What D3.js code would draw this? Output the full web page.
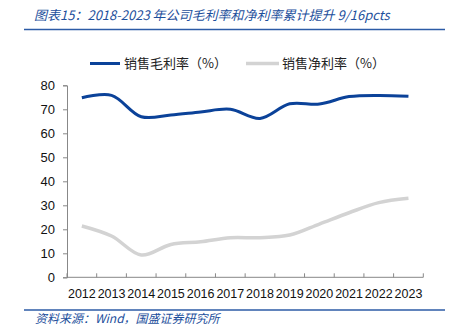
<!DOCTYPE html>
<html><head><meta charset="utf-8">
<script src="https://cdn.jsdelivr.net/npm/d3@7"></script>
<style>body{margin:0;background:#fff}svg{display:block}</style>
</head><body>
<svg id="c" width="454" height="328"></svg>
<script>
const years = ["2012","2013","2014","2015","2016","2017","2018","2019","2020","2021","2022","2023"];
const grossMargin = [74.8,75.8,66.9,67.6,68.9,70.0,66.2,72.3,72.2,75.3,75.8,75.4];
const netMargin = [21.4,17.2,9.3,13.7,14.8,16.5,16.5,17.6,22.2,26.9,31.1,32.9];
const yTicks = [0,10,20,30,40,50,60,70,80];
const seriesNames = ["销售毛利率（%）","销售净利率（%）"];
const seriesColors = ["#0b4299","#d3d3d3"];

const svg = d3.select("#c");
const latin = "'Liberation Sans', Arial, sans-serif";
const cjk = "'Noto Sans CJK SC', sans-serif";

// title
svg.append("text").attr("x",34).attr("y",20)
  .attr("font-family",cjk).attr("font-size",13).attr("font-style","italic")
  .attr("fill","#1d4f9c").text("图表15：2018-2023 年公司毛利率和净利率累计提升 9/16pcts");
svg.append("line").attr("x1",24).attr("x2",445).attr("y1",29.5).attr("y2",29.5)
  .attr("stroke","#2c5ba6").attr("stroke-width",1.5);

// footer
svg.append("line").attr("x1",24).attr("x2",445).attr("y1",310).attr("y2",310)
  .attr("stroke","#2c5ba6").attr("stroke-width",1.5);
svg.append("text").attr("x",35).attr("y",323)
  .attr("font-family",cjk).attr("font-size",12).attr("font-style","italic")
  .attr("fill","#1d4f9c").text("资料来源：Wind，国盛证券研究所");

const x = d3.scaleBand().domain(years).range([67,423.3]);
const y = d3.scaleLinear().domain([0,80]).range([277.3,85.3]);

// axes
const gy = svg.append("g").attr("transform","translate(67,0)")
  .call(d3.axisLeft(y).tickValues(yTicks).tickSize(4).tickPadding(8));
gy.select(".domain").attr("stroke","#888");
gy.selectAll(".tick line").attr("stroke","#888");
gy.selectAll("text").attr("font-family",latin).attr("font-size",13).attr("fill","#111");

const gx = svg.append("g").attr("transform","translate(0,277.3)");
gx.append("line").attr("x1",67).attr("x2",423.3).attr("stroke","#888");
const bounds = years.map(d=>x(d)).concat([x.range()[1]]);
gx.selectAll("line.t").data(bounds).enter().append("line").attr("class","t")
  .attr("x1",d=>d).attr("x2",d=>d).attr("y1",0).attr("y2",-4).attr("stroke","#888");
gx.selectAll("text").data(years).enter().append("text")
  .attr("x",d=>x(d)+x.bandwidth()/2).attr("y",21).attr("text-anchor","middle")
  .attr("font-family",latin).attr("font-size",12.5).attr("fill","#111").text(d=>d);

// lines
const line = d3.line().x((d,i)=>x(years[i])+x.bandwidth()/2).y(d=>y(d))
  .curve(d3.curveCatmullRom.alpha(0.5));
svg.append("path").datum(netMargin).attr("d",line).attr("fill","none")
  .attr("stroke",seriesColors[1]).attr("stroke-width",3.5);
svg.append("path").datum(grossMargin).attr("d",line).attr("fill","none")
  .attr("stroke",seriesColors[0]).attr("stroke-width",3);

// legend
const leg = [{x1:90,x2:120,tx:124,w:3},{x1:246,x2:279,tx:282,w:3.5}];
leg.forEach((l,i)=>{
  svg.append("line").attr("x1",l.x1).attr("x2",l.x2).attr("y1",63.5).attr("y2",63.5)
    .attr("stroke",seriesColors[i]).attr("stroke-width",l.w);
  svg.append("text").attr("x",l.tx).attr("y",68).attr("font-family",cjk)
    .attr("font-size",13).attr("fill","#222").text(seriesNames[i]);
});
</script>
</body></html>
